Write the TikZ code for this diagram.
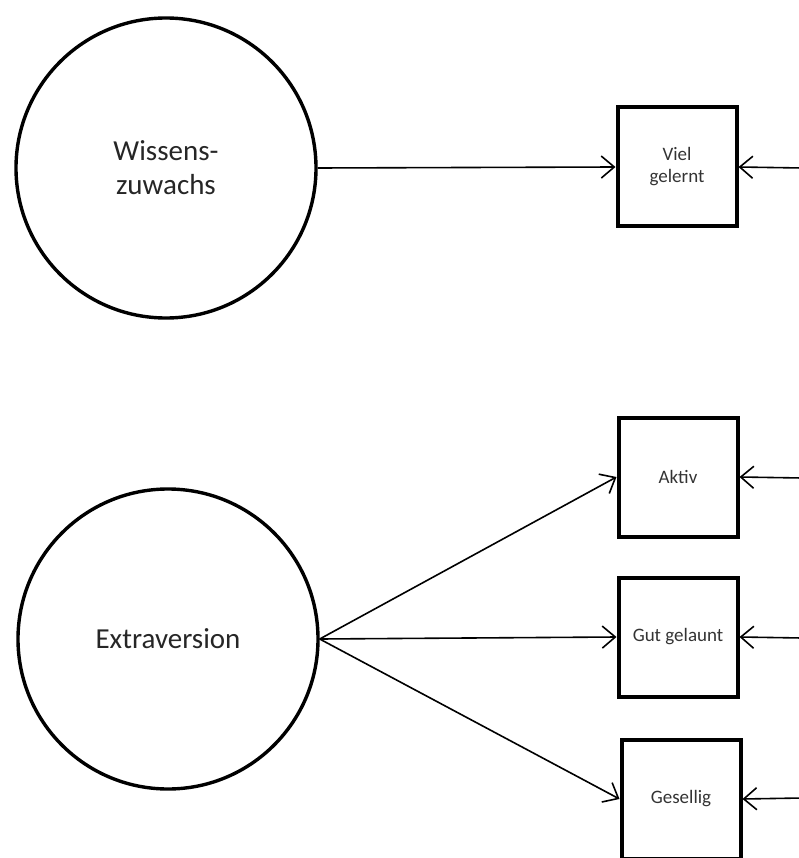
\documentclass[tikz,border=0pt]{standalone}
\usepackage{fontspec}
\setmainfont{Carlito}
\usetikzlibrary{arrows.meta}
\begin{document}
\begin{tikzpicture}[x=1pt,y=-1pt,
  latent/.style={circle,draw,line width=3.4pt,minimum size=300pt,inner sep=0pt,
    font=\fontsize{29}{34}\selectfont,align=center,text=black!85},
  indicator/.style={rectangle,draw,line width=4pt,minimum width=119pt,minimum height=119pt,
    inner sep=0pt,font=\fontsize{19}{22}\selectfont,align=center,text=black!80},
  path/.style={line width=1.6pt,-{Straight Barb[length=13pt,width=22pt,line width=1.6pt]}}]
\useasboundingbox (0,0) rectangle (799,858);
\begin{scope}
\clip (0,0) rectangle (799,858);
% latent factors
\node[latent] (wz) at (166,168) {Wissens-\\zuwachs};
\node[latent] (ex) at (168,639) {Extraversion};
% observed indicators
\node[indicator] (vg) at (677,167) {Viel\\gelernt};
\node[indicator] (ak) at (678,477) {Aktiv};
\node[indicator] (gg) at (678,637) {Gut gelaunt};
\node[indicator] (gs) at (681,799) {Gesellig};
% error terms entering from the right
\coordinate (e1) at (802,168);
\coordinate (e2) at (802,478);
\coordinate (e3) at (802,638);
\coordinate (e4) at (802,798);
% loadings
\draw[path] (wz.east) -- (vg.west);
\draw[path] (ex.east) -- (ak.west);
\draw[path] (ex.east) -- (gg.west);
\draw[path] (ex.east) -- (gs.west);
\draw[path] (e1) -- (vg.east);
\draw[path] (e2) -- (ak.east);
\draw[path] (e3) -- (gg.east);
\draw[path] (e4) -- (gs.east);
\end{scope}
\end{tikzpicture}
\end{document}
